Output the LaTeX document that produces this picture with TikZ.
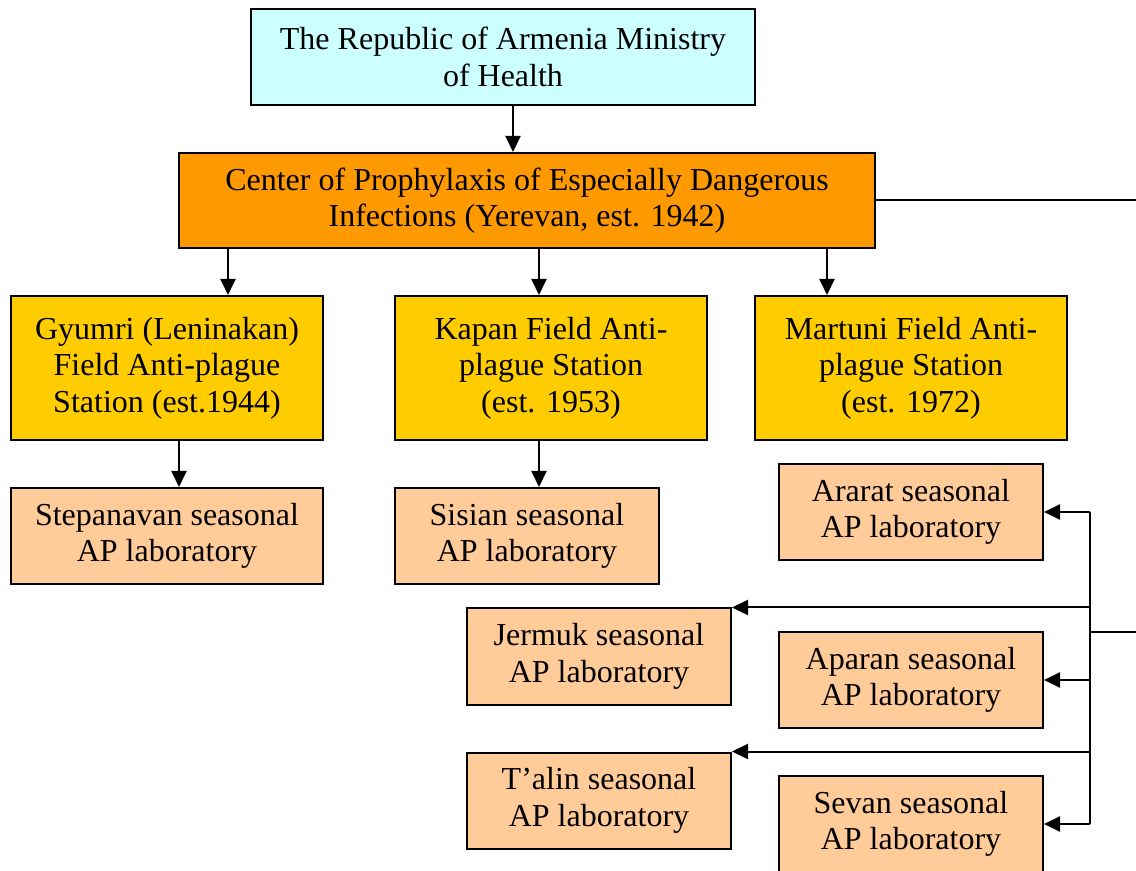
\documentclass[tikz,border=0pt]{standalone}
\usepackage{fontspec}
\setmainfont{Liberation Serif}
\usetikzlibrary{positioning,arrows.meta}
\definecolor{ministrycyan}{RGB}{204,255,255}
\definecolor{centerorange}{RGB}{255,153,0}
\definecolor{stationgold}{RGB}{255,204,0}
\definecolor{labpeach}{RGB}{255,204,153}

\begin{document}
\begin{tikzpicture}[
    x=0.5pt, y=-0.5pt,
    font=\fontsize{16}{18.3}\selectfont,
    box/.style={draw, line width=1pt, align=center, inner sep=0pt,
                minimum height=48pt},
    station/.style={box, fill=stationgold, minimum width=156pt,
                    minimum height=72pt},
    lab/.style={box, fill=labpeach, minimum width=132pt},
    link/.style={line width=1pt},
    arr/.style={-{Triangle[length=8pt,width=7.5pt]}, line width=1pt}
]
\useasboundingbox (0,0) rectangle (1136,871);
\node[box, fill=ministrycyan, minimum width=252pt] (ministry) at (503,57)
    {The Republic of Armenia Ministry\\of Health};
\node[box, fill=centerorange, minimum width=348pt, minimum height=47.5pt] (center) at (527,200.5)
    {Center of Prophylaxis of Especially Dangerous\\Infections (Yerevan, est. 1942)};
\node[station] (gyumri) at (167,368) {Gyumri (Leninakan)\\Field Anti-plague\\Station (est.1944)};
\node[station] (kapan) at (551,368) {Kapan Field Anti-\\plague Station\\(est. 1953)};
\node[station] (martuni) at (911,368) {Martuni Field Anti-\\plague Station\\(est. 1972)};
\node[lab, minimum width=156pt] (stepanavan) at (167,536) {Stepanavan seasonal\\AP laboratory};
\node[lab] (sisian) at (527,536) {Sisian seasonal\\AP laboratory};
\node[lab] (ararat) at (911,512) {Ararat seasonal\\AP laboratory};
\node[lab] (jermuk) at (599,656.5) {Jermuk seasonal\\AP laboratory};
\node[lab] (aparan) at (911,680) {Aparan seasonal\\AP laboratory};
\node[lab] (talin) at (599,800.5) {T’alin seasonal\\AP laboratory};
\node[lab] (sevan) at (911,824) {Sevan seasonal\\AP laboratory};
\coordinate (edge) at (1136,632);
\coordinate (bus) at (1090,632);
% arrows down the tree
\draw[arr] (ministry.south -| 513,0) -- (center.north -| 513,0);
\draw[arr] (center.south -| 228,0) -- (gyumri.north -| 228,0);
\draw[arr] (center.south -| 539,0) -- (kapan.north -| 539,0);
\draw[arr] (center.south -| 827,0) -- (martuni.north -| 827,0);
\draw[arr] (gyumri.south -| 179,0) -- (stepanavan.north -| 179,0);
\draw[arr] (kapan.south -| 539,0) -- (sisian.north -| 539,0);
% lines leaving on the right
\draw[link] (center.east) -- (center.east -| edge);
\draw[link] (edge) -- (bus);
\draw[link] (ararat.east -| bus) -- (sevan.east -| bus);
\draw[arr] (ararat.east -| bus) -- (ararat.east);
\draw[arr] (jermuk.north east -| bus) -- (jermuk.north east);
\draw[arr] (aparan.east -| bus) -- (aparan.east);
\draw[arr] (talin.north east -| bus) -- (talin.north east);
\draw[arr] (sevan.east -| bus) -- (sevan.east);
\end{tikzpicture}
\end{document}
